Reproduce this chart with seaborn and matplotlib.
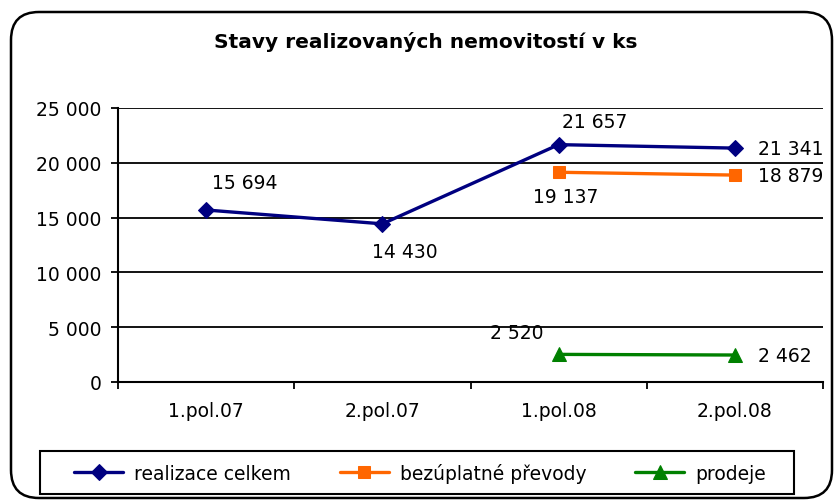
import numpy as np
import pandas as pd
import matplotlib
matplotlib.use("Agg")
import matplotlib.pyplot as plt
import seaborn as sns
from matplotlib.patches import FancyBboxPatch, Rectangle
from matplotlib.ticker import FuncFormatter, FixedLocator

categories = ["1.pol.07", "2.pol.07", "1.pol.08", "2.pol.08"]
realizace = [15694, 14430, 21657, 21341]
bezuplatne = [np.nan, np.nan, 19137, 18879]
prodeje = [np.nan, np.nan, 2520, 2462]
series_names = ["realizace celkem", "bezúplatné převody", "prodeje"]
title = "Stavy realizovaných nemovitostí v ks"

sns.set_theme(style="white")
plt.rcParams["font.family"] = ["DejaVu Sans"]
plt.rcParams["text.color"] = "black"
plt.rcParams["xtick.color"] = "black"
plt.rcParams["ytick.color"] = "black"
plt.rcParams["axes.labelcolor"] = "black"

fig = plt.figure(figsize=(8.35, 5.02), dpi=100)
ax = fig.add_axes([118/835, 1-383/502, (823-118)/835, (383-109)/502])

x = np.arange(len(categories))
rows = []
for name, vals in zip(series_names, [realizace, bezuplatne, prodeje]):
    for xi, v in zip(x, vals):
        if not np.isnan(v):
            rows.append({"x": xi, "value": v, "series": name})
df = pd.DataFrame(rows)

colors = {"realizace celkem": "#000080", "bezúplatné převody": "#FF6600", "prodeje": "#008000"}
markers = {"realizace celkem": "D", "bezúplatné převody": "s", "prodeje": "^"}
msize = {"realizace celkem": 8, "bezúplatné převody": 8.5, "prodeje": 10}

for name in series_names:
    sub = df[df["series"] == name]
    sns.lineplot(data=sub, x="x", y="value", ax=ax, color=colors[name],
                 marker=markers[name], markersize=msize[name], linewidth=2.4,
                 markeredgecolor=colors[name], label=name, legend=False)

# data labels: offsets in pixels (dx right, dy up), ha
fs = 13.5
lab_specs = [
    (realizace, [(39, 27, "center"), (22, -28, "center"), (36, 23, "center"), (23, 0, "left")]),
    (bezuplatne, [None, None, (7, -24, "center"), (23, 0, "left")]),
    (prodeje, [None, None, (-42, 22, "center"), (23, 0, "left")]),
]
for vals, specs in lab_specs:
    for xi, v, sp in zip(x, vals, specs):
        if sp is None or np.isnan(v):
            continue
        dx, dy, ha = sp
        ax.annotate(f"{int(v):,}".replace(",", " "), xy=(xi, v),
                    xytext=(dx * 0.72, dy * 0.72), textcoords="offset points",
                    ha=ha, va="center", fontsize=fs, color="black",
                    annotation_clip=False)

ax.set_xlim(-0.5, 3.5)
ax.set_ylim(0, 25000)
ax.set_yticks([0, 5000, 10000, 15000, 20000, 25000])
ax.yaxis.set_major_formatter(FuncFormatter(lambda v, p: f"{int(v):,}".replace(",", " ")))
ax.set_xticks(x)
ax.set_xticklabels(categories)
ax.xaxis.set_minor_locator(FixedLocator([-0.5, 0.5, 1.5, 2.5, 3.5]))
ax.tick_params(axis="x", which="major", length=0, pad=14, labelsize=fs)
ax.tick_params(axis="x", which="minor", length=5, width=1.3, color="black", direction="out", bottom=True)
ax.tick_params(axis="y", length=5, width=1.3, color="black", direction="out", left=True, labelsize=fs, pad=7)
ax.set_xlabel("")
ax.set_ylabel("")
ax.grid(axis="y", color="black", linewidth=1.3)
ax.set_axisbelow(True)
for s in ["top", "right"]:
    ax.spines[s].set_visible(False)
for s in ["left", "bottom"]:
    ax.spines[s].set_color("black")
    ax.spines[s].set_linewidth(1.5)
ax.set_facecolor("white")

fig.text(426/835, 1-42/502, title, ha="center", va="center", fontsize=14.5,
         fontweight="bold", color="black")

# legend box
fig.patches.append(Rectangle((40/835, 1-495/502), 754/835, 43/502, transform=fig.transFigure,
                             facecolor="none", edgecolor="black", linewidth=1.5))
handles, labels = ax.get_legend_handles_labels()
leg = fig.legend(handles, labels, loc="center", ncol=3,
                 bbox_to_anchor=(420/835, 1-473.5/502),
                 fontsize=fs, frameon=False, handlelength=2.6,
                 borderaxespad=0, handletextpad=0.6, columnspacing=2.6, borderpad=0)
for t in leg.get_texts():
    t.set_color("black")

border = FancyBboxPatch((0.11, 0.03), 8.21, 4.86, boxstyle="round,pad=0,rounding_size=0.28",
                        transform=fig.dpi_scale_trans, facecolor="none", edgecolor="black",
                        linewidth=1.8, zorder=-1)
fig.patches.append(border)

fig.savefig("out.png", dpi=100, facecolor="white")
